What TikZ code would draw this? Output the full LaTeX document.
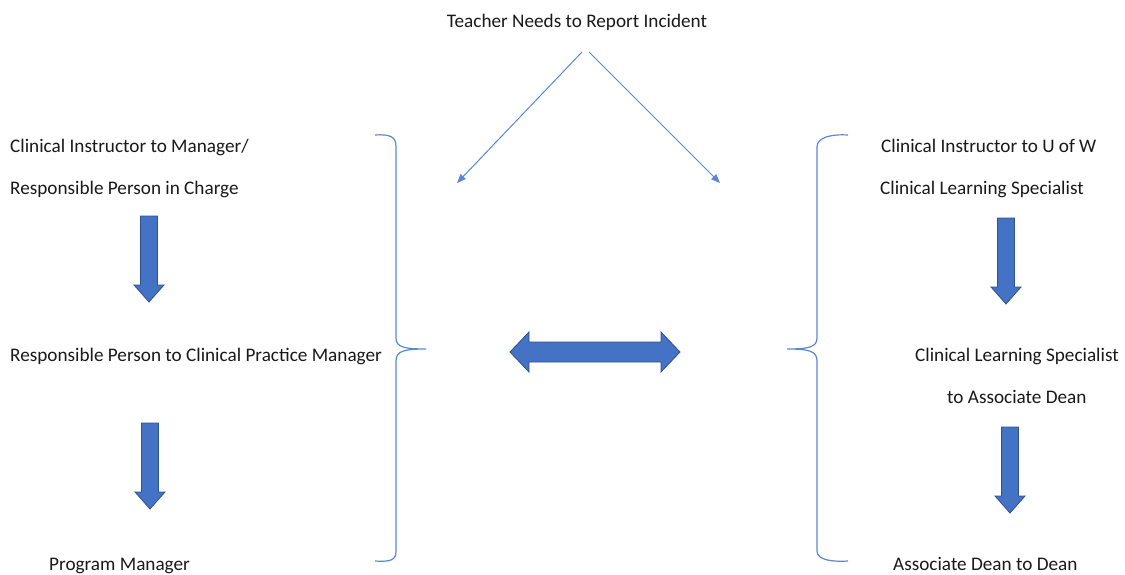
\documentclass[tikz,border=0pt]{standalone}
\usepackage{fontspec}
\setmainfont{Carlito}
\usetikzlibrary{arrows.meta}
\definecolor{acc}{RGB}{68,114,196}
\definecolor{accdark}{RGB}{47,82,143}
\definecolor{thin}{RGB}{90,135,210}
\begin{document}
\begin{tikzpicture}[x=1pt,y=-1pt,
  lbl/.style={inner sep=0pt,font=\fontsize{19.2}{23}\selectfont,text=black!90},
  brace/.style={draw=thin,line width=1.2pt},
  thinarrow/.style={draw=thin,line width=1pt,-{Triangle[length=9pt,width=7pt]}},
  blockarrow/.style={fill=acc,draw=accdark,line width=0.8pt,line join=miter},
  downarrow/.pic={\path[blockarrow] (-8.5,0) -- (8.5,0) -- (8.5,69) -- (15,69) -- (0,86) -- (-15,69) -- (-8.5,69) -- cycle;}
  ]
\useasboundingbox (0,0) rectangle (1125,574);
% texts
\node[lbl,anchor=base] (title) at (577,27) {Teacher Needs to Report Incident};
\node[lbl,anchor=base west] (l1) at (10,152) {Clinical Instructor to Manager/};
\node[lbl,anchor=base west] (l2) at (10,194) {Responsible Person in Charge};
\node[lbl,anchor=base west] (l3) at (10,361) {Responsible Person to Clinical Practice Manager};
\node[lbl,anchor=base west] (l4) at (49,570) {Program Manager};
\node[lbl,anchor=base west] (r1) at (881,152) {Clinical Instructor to U of W};
\node[lbl,anchor=base west] (r2) at (880,194) {Clinical Learning Specialist};
\node[lbl,anchor=base west] (r3) at (915,361) {Clinical Learning Specialist};
\node[lbl,anchor=base west] (r4) at (947,403) {to Associate Dean};
\node[lbl,anchor=base west] (r5) at (893,570) {Associate Dean to Dean};
% thin arrows
\coordinate (tl) at (582,52);
\coordinate (tr) at (589,52);
\coordinate (el) at (457,183);
\coordinate (er) at (720,183);
\draw[thinarrow] (tl) -- (el);
\draw[thinarrow] (tr) -- (er);
% braces
\draw[brace] (375,135) .. controls (391,134) and (396,137) .. (396,147) -- (396,338)
  .. controls (396,347) and (404,349) .. (426,349)
  .. controls (404,349) and (396,351) .. (396,361) -- (396,551)
  .. controls (396,560) and (391,562) .. (375,561);
\draw[brace] (848,135) .. controls (832,134) and (817,137) .. (817,147) -- (817,338)
  .. controls (817,347) and (809,349) .. (787,349)
  .. controls (809,349) and (817,351) .. (817,361) -- (817,551)
  .. controls (817,560) and (832,562) .. (848,561);
% block arrows
\pic at (149,216) {downarrow};
\pic at (150,423) {downarrow};
\pic at (1006,218) {downarrow};
\pic at (1010,427) {downarrow};
\path[blockarrow] (510,352) -- (529,332) -- (529,342) -- (661,342) -- (661,332) -- (680,352)
  -- (661,372) -- (661,362) -- (529,362) -- (529,372) -- cycle;
\end{tikzpicture}
\end{document}
